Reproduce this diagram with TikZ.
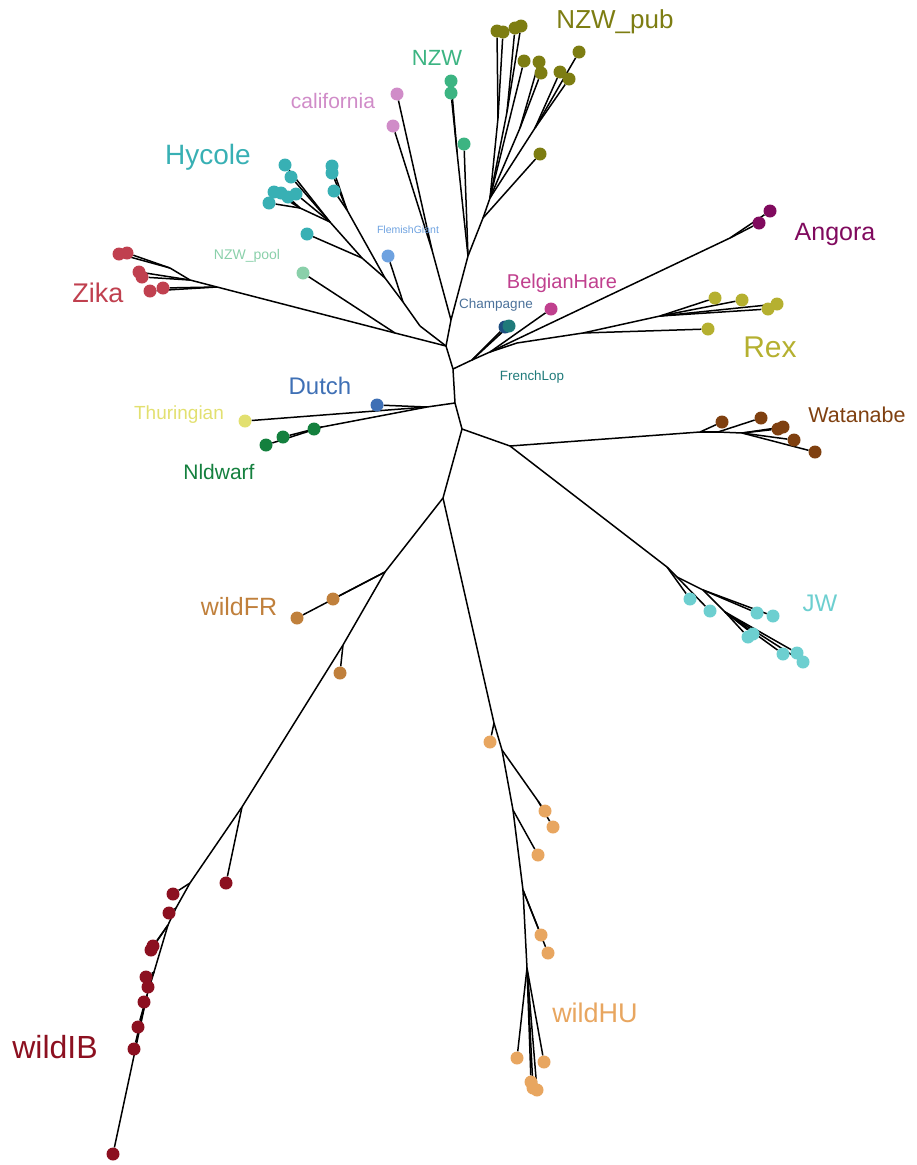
\documentclass[tikz,border=0pt]{standalone}
\usepackage{fontspec}
\setmainfont{Liberation Sans}
\usetikzlibrary{backgrounds}
\definecolor{cpub}{HTML}{7D7D12}
\definecolor{cnzw}{HTML}{3CB482}
\definecolor{ccal}{HTML}{D08CC8}
\definecolor{chyc}{HTML}{38B0B4}
\definecolor{cpool}{HTML}{8AD0AA}
\definecolor{cflem}{HTML}{6EA2E0}
\definecolor{czik}{HTML}{C0404F}
\definecolor{cdut}{HTML}{3F70B5}
\definecolor{cthu}{HTML}{E2E070}
\definecolor{cnld}{HTML}{14803E}
\definecolor{cang}{HTML}{800A5E}
\definecolor{cbel}{HTML}{C0408E}
\definecolor{ccha}{HTML}{1E4E80}
\definecolor{cfre}{HTML}{1F7A7A}
\definecolor{crex}{HTML}{B5B030}
\definecolor{cwat}{HTML}{7F4010}
\definecolor{cjw}{HTML}{6DCFD0}
\definecolor{cwfr}{HTML}{C0803C}
\definecolor{cwib}{HTML}{8C1020}
\definecolor{cwhu}{HTML}{E8A660}
\tikzset{
  dot/.style={circle,fill=#1,inner sep=0pt,minimum size=13pt},
  edge/.style={draw=black,line width=1.5pt},
  lab/.style 2 args={text=#1,inner sep=0pt,font={\fontsize{#2}{#2}\selectfont}}
}
\begin{document}
\begin{tikzpicture}[x=1pt,y=-1pt]
\useasboundingbox (0,0) rectangle (916,1165);
% internal points
\coordinate (N1) at (453,369);
\coordinate (N2) at (446,346);
\coordinate (N3) at (451,320);
\coordinate (N4) at (468,256);
\coordinate (N5) at (483,218);
\coordinate (Nd) at (455,403);
\coordinate (N7) at (462,429);
\coordinate (N8) at (510,446);
\coordinate (N9) at (443,498);
\coordinate (Ca) at (432,250);
\coordinate (Nz) at (457,152);
\coordinate (P0) at (490,198);
\coordinate (Pa) at (498,118);
\coordinate (Pb) at (507,112);
\coordinate (Pc) at (520,128);
\coordinate (Pd) at (535,128);
\coordinate (H0) at (420,326);
\coordinate (H1) at (403,302);
\coordinate (H2) at (385,278);
\coordinate (Hc) at (347,210);
\coordinate (H3) at (362,258);
\coordinate (H4) at (330,222);
\coordinate (H5) at (300,208);
\coordinate (ZP) at (395,333);
\coordinate (ZkN) at (217,287);
\coordinate (Za) at (190,280);
\coordinate (Zb) at (170,268);
\coordinate (Dn) at (427,407);
\coordinate (NlN) at (322,427);
\coordinate (R1) at (472,360);
\coordinate (R2) at (490,352);
\coordinate (AngN) at (730,238);
\coordinate (R3) at (517,343);
\coordinate (RxN) at (583,333);
\coordinate (RxM) at (660,316);
\coordinate (W0) at (700,432);
\coordinate (W1) at (718,432);
\coordinate (W2) at (742,433);
\coordinate (J0) at (667,567);
\coordinate (J1) at (677,577);
\coordinate (J2) at (703,590);
\coordinate (J3) at (725,612);
\coordinate (F0) at (385,572);
\coordinate (F1) at (343,645);
\coordinate (I0) at (242,807);
\coordinate (I1) at (190,883);
\coordinate (I2) at (176,908);
\coordinate (I3) at (168,925);
\coordinate (I4) at (154,972);
\coordinate (I5) at (147,995);
\coordinate (U0) at (494,723);
\coordinate (U1) at (502,750);
\coordinate (U1a) at (538,801);
\coordinate (U2) at (513,810);
\coordinate (U3) at (523,890);
\coordinate (U4) at (527,968);
% tips
\foreach \n/\p in {p1/{497,31},p2/{503,32},p3/{515,28},p4/{521,26},p5/{524,61},p6/{539,62},p7/{541,73},p8/{560,72},p9/{569,79},p10/{579,52},p11/{540,154}}
  \node[dot=cpub] (\n) at (\p) {};
\foreach \n/\p in {z1/{451,81},z2/{451,93},z3/{464,144}}
  \node[dot=cnzw] (\n) at (\p) {};
\foreach \n/\p in {c1/{397,94},c2/{393,126}}
  \node[dot=ccal] (\n) at (\p) {};
\foreach \n/\p in {h1/{285,165},h2/{291,177},h3/{332,166},h4/{332,173},h5/{334,191},h6/{296,194},h7/{274,192},h8/{281,193},h9/{288,197},h10/{269,203},h11/{307,234}}
  \node[dot=chyc] (\n) at (\p) {};
\node[dot=cpool] (np) at (303,273) {};
\node[dot=cflem] (fg) at (388,256) {};
\foreach \n/\p in {k1/{119,254},k2/{127,253},k3/{139,272},k4/{142,277},k5/{150,291},k6/{163,288}}
  \node[dot=czik] (\n) at (\p) {};
\node[dot=cdut] (du) at (377,405) {};
\node[dot=cthu] (th) at (245,421) {};
\foreach \n/\p in {n1/{314,429},n2/{283,437},n3/{266,445}}
  \node[dot=cnld] (\n) at (\p) {};
\foreach \n/\p in {a1/{770,211},a2/{759,223}}
  \node[dot=cang] (\n) at (\p) {};
\node[dot=cbel] (bh) at (551,309) {};
\node[dot=ccha] (ch) at (505,327) {};
\node[dot=cfre] (fl) at (509,326) {};
\foreach \n/\p in {r1/{715,298},r2/{742,300},r3/{768,309},r4/{777,304},r5/{708,329}}
  \node[dot=crex] (\n) at (\p) {};
\foreach \n/\p in {w1/{722,422},w2/{761,418},w3/{778,429},w4/{783,427},w5/{794,440},w6/{815,452}}
  \node[dot=cwat] (\n) at (\p) {};
\foreach \n/\p in {j1/{690,599},j2/{710,611},j3/{757,613},j4/{773,616},j5/{748,637},j6/{753,634},j7/{783,654},j8/{797,653},j9/{803,662}}
  \node[dot=cjw] (\n) at (\p) {};
\foreach \n/\p in {f1/{333,599},f2/{297,618},f3/{340,673}}
  \node[dot=cwfr] (\n) at (\p) {};
\foreach \n/\p in {i1/{226,883},i2/{173,894},i3/{169,913},i4/{153,946},i5/{151,950},i6/{146,977},i7/{148,987},i8/{144,1002},i9/{138,1027},i10/{134,1049},i11/{113,1154}}
  \node[dot=cwib] (\n) at (\p) {};
\foreach \n/\p in {u1/{490,742},u2/{545,811},u3/{553,827},u4/{538,855},u5/{541,935},u6/{548,953},u7/{517,1058},u8/{544,1062},u9/{531,1082},u10/{537,1090},u11/{533,1088}}
  \node[dot=cwhu] (\n) at (\p) {};
% edges
\begin{pgfonlayer}{background}
\foreach \a/\b in {N2/N1,N3/N2,N1/Nd,Nd/N7,N7/N9,N7/N8,
  N3/Ca,Ca/c1,Ca/c2,N3/N4,N4/z3,N4/Nz,Nz/z1,Nz/z2,N4/N5,N5/p11,N5/P0,P0/Pa,Pa/p1,Pa/p2,P0/Pb,Pb/p3,Pb/p4,P0/p5,P0/Pc,Pc/p6,Pc/p7,P0/Pd,Pd/p8,Pd/p9,Pd/p10,
  N2/H0,H0/H1,H1/fg,H1/H2,H2/Hc,Hc/h3,Hc/h4,Hc/h5,H2/H3,H3/h11,H3/H4,H4/h1,H4/h2,H4/h6,H4/H5,H5/h7,H5/h8,H5/h9,H5/h10,
  N2/ZP,ZP/np,ZP/ZkN,ZkN/k6,ZkN/k5,ZkN/Za,Za/k3,Za/k4,Za/Zb,Zb/k1,Zb/k2,
  Nd/Dn,Dn/du,Dn/th,Dn/NlN,NlN/n1,NlN/n2,NlN/n3,
  N1/R1,R1/ch,R1/fl,R1/R2,R2/bh,R2/AngN,AngN/a1,AngN/a2,R2/R3,R3/RxN,RxN/r5,RxN/RxM,RxM/r1,RxM/r2,RxM/r3,RxM/r4,
  N8/W0,W0/w1,W0/W1,W1/w2,W1/W2,W2/w3,W2/w4,W2/w5,W2/w6,
  N8/J0,J0/j1,J0/J1,J1/j2,J1/J2,J2/j3,J2/j4,J2/J3,J3/j5,J3/j6,J3/j7,J3/j8,J3/j9,
  N9/F0,F0/f1,F0/f2,F0/F1,F1/f3,F1/I0,I0/i1,I0/I1,I1/i2,I1/I2,I2/i3,I2/I3,I3/i4,I3/i5,I3/I4,I4/i6,I4/i7,I4/I5,I5/i8,I5/i9,I5/i10,I5/i11,
  N9/U0,U0/u1,U0/U1,U1/U1a,U1a/u2,U1a/u3,U1/U2,U2/u4,U2/U3,U3/u5,U3/u6,U3/U4,U4/u7,U4/u8,U4/u9,U4/u10,U4/u11}
  \draw[edge] (\a) -- (\b);
\end{pgfonlayer}
% labels
\node[lab={cpub}{26}] (Lpub) at (615,22) {NZW\_pub};
\node[lab={cnzw}{22}] (Lnzw) at (437,58) {NZW};
\node[lab={ccal}{21}] (Lcal) at (333,101) {california};
\node[lab={chyc}{28}] (Lhyc) at (208,157) {Hycole};
\node[lab={cpool}{14}] (Lpool) at (247,256) {NZW\_pool};
\node[lab={cflem}{10.5}] (Lflem) at (408,230) {FlemishGiant};
\node[lab={czik}{27}] (Lzik) at (98,293) {Zika};
\node[lab={cdut}{24}] (Ldut) at (320,386) {Dutch};
\node[lab={cthu}{19}] (Lthu) at (179,415) {Thuringian};
\node[lab={cnld}{21}] (Lnld) at (219,472) {Nldwarf};
\node[lab={cang}{25}] (Lang) at (835,234) {Angora};
\node[lab={cbel}{20}] (Lbel) at (562,283) {BelgianHare};
\node[lab={ccha!80!white}{13.5}] (Lcha) at (496,305) {Champagne};
\node[lab={cfre}{13.4}] (Lfre) at (532,377) {FrenchLop};
\node[lab={crex}{30}] (Lrex) at (770,347) {Rex};
\node[lab={cwat}{21.5}] (Lwat) at (857,415) {Watanabe};
\node[lab={cjw}{24}] (Ljw) at (820,603) {JW};
\node[lab={cwfr}{25}] (Lwfr) at (239,607) {wildFR};
\node[lab={cwib}{32}] (Lwib) at (55,1047) {wildIB};
\node[lab={cwhu}{27}] (Lwhu) at (595,1013) {wildHU};
\end{tikzpicture}
\end{document}
